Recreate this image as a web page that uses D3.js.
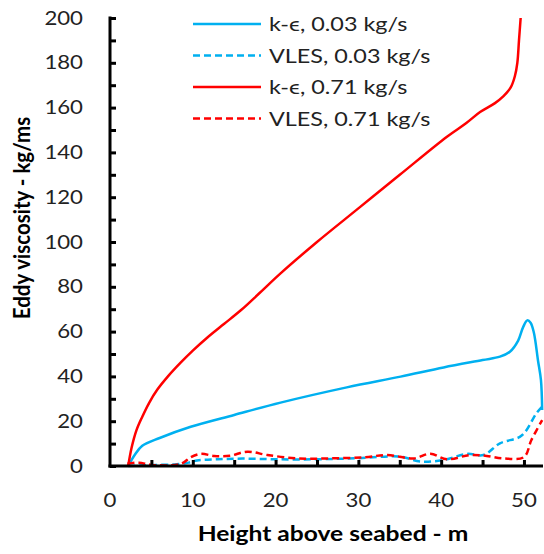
<!DOCTYPE html>
<html>
<head>
<meta charset="utf-8">
<script src="https://cdn.jsdelivr.net/npm/d3@7"></script>
<style>
  body { margin: 0; background: #fff; }
  text { font-family: Lato, "Open Sans", sans-serif; fill: #222; }
</style>
</head>
<body>
<svg id="chart" width="544" height="554"></svg>
<script>
// data (height m, eddy viscosity kg/ms)
const keSlow = [[2.2,0],[3,5],[3.9,9],[6,12.5],[9.75,17.5],[15,22.8],[20.6,28.3],[28.6,35.1],[35.1,39.9],[40.3,44],[45,47.3],[47.1,48.8],[48.3,51],[49.3,56],[49.9,62],[50.4,65],[50.8,64],[51.2,59.5],[51.7,47],[52.05,38.4],[52.2,25]];
const vlesSlow = [[2.2,0],[4,0.3],[6,0.5],[8,0.8],[9.5,1.5],[10.5,2.5],[13,3],[16,3.3],[20,3],[25,3],[30,3.5],[35,4.2],[37.5,2],[40.3,2.7],[43.1,5.4],[45.1,4.9],[47.1,10.1],[49.5,13],[50.3,16],[51.5,23.5],[52.2,26.5]];
const keFast = [[2.2,0],[2.6,8],[3.2,16],[3.9,22],[4.7,28],[5.7,34],[7,40],[8.5,46],[10,51.5],[11.8,57.5],[13.8,63.5],[15.8,69.5],[18,77],[20.6,86],[25,100],[30,115],[35,130],[40.7,147],[43,153],[44.7,158],[46.5,162],[47.5,165],[48.4,169],[48.9,174],[49.2,180],[49.4,190],[49.6,200]];
const vlesFast = [[2.1,1],[3.5,1.5],[5,0.5],[8.6,1],[9.75,3.9],[11,5.4],[12.6,4.5],[14.5,4.6],[16.6,6.4],[19,4.9],[22.6,3.4],[26.6,3.4],[30.7,3.9],[33.5,4.9],[36.7,3.4],[38.7,5.5],[40.7,3],[43.5,4.9],[45.5,4.5],[47.5,3.4],[50,4],[50.9,11.6],[52.2,20.5]];

const seriesNames = ["k-\u03f5, 0.03 kg/s", "VLES, 0.03 kg/s", "k-\u03f5, 0.71 kg/s", "VLES, 0.71 kg/s"];
const seriesData  = [keSlow, vlesSlow, keFast, vlesFast];
const seriesColor = ["#00b0f0", "#00b0f0", "#ff0000", "#ff0000"];
const seriesDash  = [null, "7,4", null, "7,4"];

const xTicks = [0, 10, 20, 30, 40, 50];
const yTicks = [0, 20, 40, 60, 80, 100, 120, 140, 160, 180, 200];

const SX = 1.2; // text in the picture is a bit wide

const svg = d3.select("#chart");
const x = d3.scaleLinear().domain([0, 52.3]).range([110, 543]);
const y = d3.scaleLinear().domain([0, 200]).range([466, 18]);

svg.append("defs").append("clipPath").attr("id", "clip")
  .append("rect").attr("x", 110).attr("y", 0).attr("width", 434).attr("height", 468);

// lines
const line = d3.line().x(d => x(d[0])).y(d => y(d[1])).curve(d3.curveCatmullRom.alpha(0.5));
const plot = svg.append("g").attr("clip-path", "url(#clip)");
seriesData.forEach((s, i) => {
  plot.append("path")
    .attr("d", line(s))
    .attr("fill", "none")
    .attr("stroke", seriesColor[i])
    .attr("stroke-width", 2.5)
    .attr("stroke-dasharray", seriesDash[i]);
});

// axes
const axisG = svg.append("g");
axisG.append("g").attr("transform", "translate(110,0)")
  .call(d3.axisRight(y).tickValues(d3.range(0, 201, 10)).tickSize(6).tickFormat(""));
axisG.append("g").attr("transform", "translate(0,466)")
  .call(d3.axisTop(x).tickValues(d3.range(5, 51, 5)).tickSize(6).tickFormat(""));
axisG.selectAll("path.domain").remove();
axisG.selectAll(".tick line").attr("stroke", "#000").attr("stroke-width", 3);
axisG.append("line").attr("x1", 110).attr("x2", 110).attr("y1", y(200) - 1.5).attr("y2", 467.5)
  .attr("stroke", "#000").attr("stroke-width", 3);
axisG.append("line").attr("x1", 108.5).attr("x2", 543).attr("y1", 466).attr("y2", 466)
  .attr("stroke", "#000").attr("stroke-width", 3);

// tick labels
svg.append("g").selectAll("text").data(yTicks).join("text")
  .attr("transform", d => `translate(83,${y(d)}) scale(${SX},1)`).attr("dy", "0.36em")
  .attr("text-anchor", "end").style("font-size", "18.5px").text(d => d);
svg.append("g").selectAll("text").data(xTicks).join("text")
  .attr("transform", d => `translate(${x(d)},507) scale(${SX},1)`)
  .attr("text-anchor", "middle").style("font-size", "18.5px").text(d => d);

// titles
svg.append("text").attr("transform", `translate(333,541) scale(${SX},1)`).attr("text-anchor", "middle")
  .style("font-size", "20.5px").style("font-weight", "bold").style("fill", "#000")
  .text("Height above seabed - m");
svg.append("text").attr("transform", "translate(30,218) rotate(-90) scale(1,1.15)").attr("text-anchor", "middle")
  .style("font-size", "20.5px").style("font-weight", "bold").style("fill", "#000")
  .text("Eddy viscosity - kg/ms");

// legend
const legend = svg.append("g");
seriesNames.forEach((name, i) => {
  const ly = 24 + i * 31.5;
  legend.append("line").attr("x1", 193).attr("x2", 261).attr("y1", ly).attr("y2", ly)
    .attr("stroke", seriesColor[i]).attr("stroke-width", 2.5).attr("stroke-dasharray", seriesDash[i]);
  legend.append("text").attr("transform", `translate(269,${ly}) scale(${SX},1)`).attr("dy", "0.36em")
    .style("font-size", "19.5px").text(name);
});
</script>
</body>
</html>
